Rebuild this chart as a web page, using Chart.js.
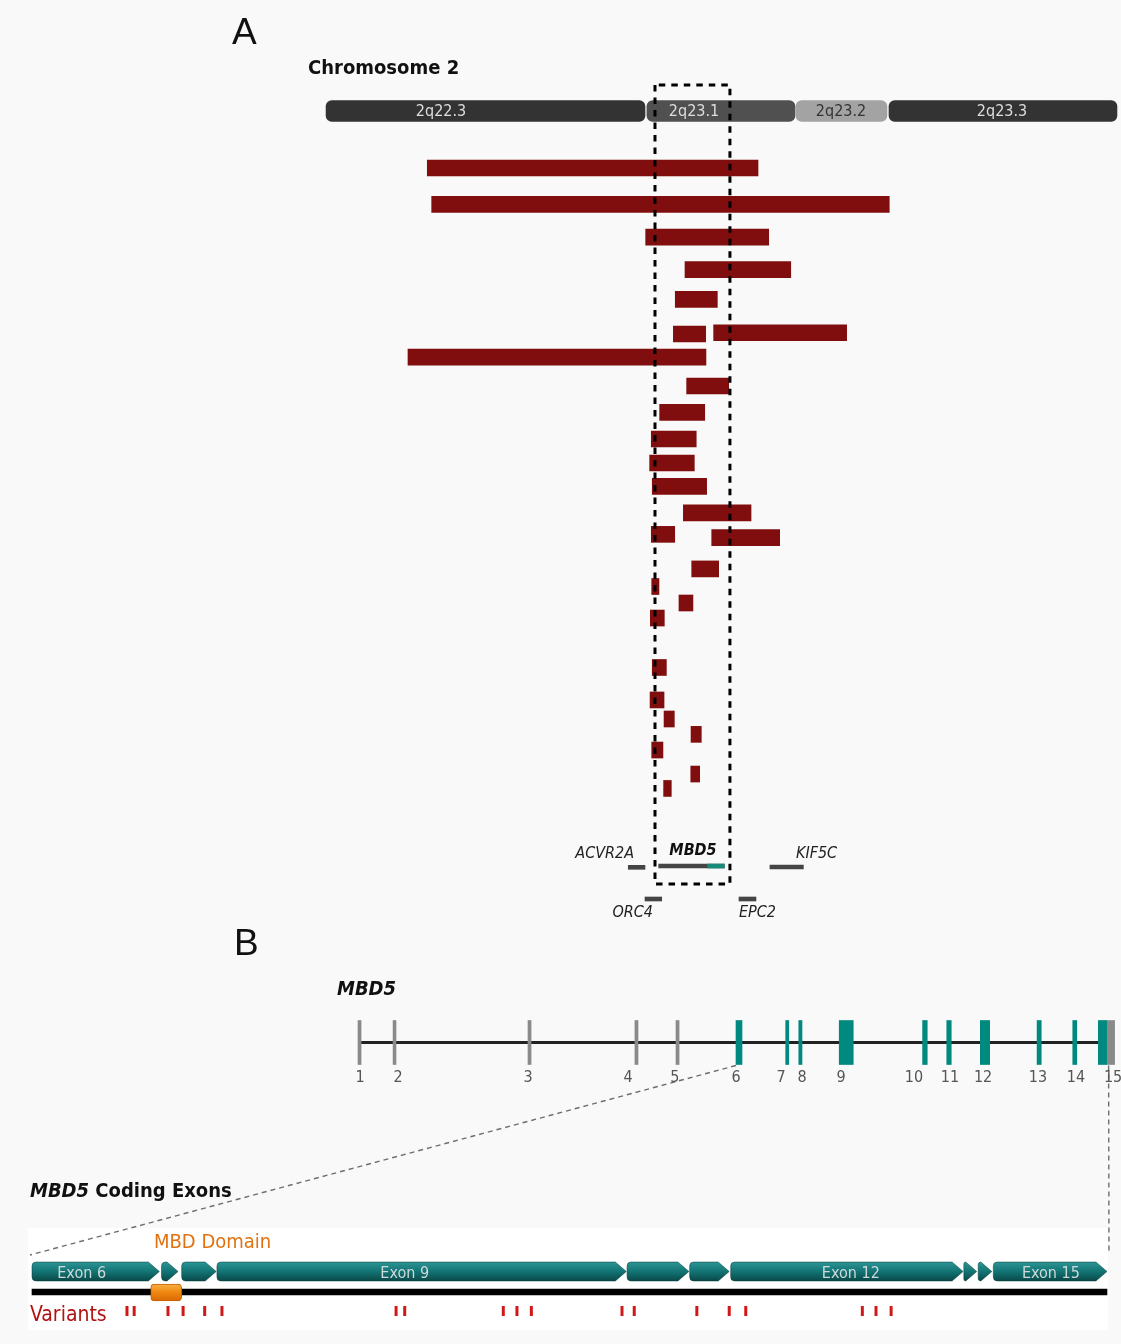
<!DOCTYPE html>
<html>
<head>
<meta charset="utf-8">
<script src="https://cdn.jsdelivr.net/npm/chart.js@4.4.1/dist/chart.umd.min.js"></script>
<style>
  html, body { margin: 0; padding: 0; background: #f9f9f9; }
  #wrap { width: 1121px; height: 1344px; }
</style>
</head>
<body>
<div id="wrap"><canvas id="fig" width="1121" height="1344"></canvas></div>
<script>
// ---------- Panel A : chromosome 2 region (positions in Mb) ----------
const bandNames   = ['2q22.3', '2q23.1', '2q23.2', '2q23.3'];
const bandStart   = [146.380, 148.722, 149.810, 150.489];
const bandEnd     = [148.708, 149.803, 150.474, 152.153];
const bandLabelAt = [147.219, 149.066, 150.139, 151.314];

// deletions: start / end (Mb) and display row
const delStart = [147.119, 147.151, 148.713, 149.000, 148.929, 148.915, 149.209, 146.978, 149.012, 148.815,
                  148.754, 148.742, 148.761, 148.988, 148.754, 149.195, 149.049, 148.757, 148.956, 148.747,
                  148.761, 148.745, 148.847, 149.044, 148.757, 149.042, 148.844];
const delEnd   = [149.533, 150.491, 149.611, 149.772, 149.236, 149.151, 150.180, 149.153, 149.319, 149.144,
                  149.082, 149.068, 149.158, 149.482, 148.925, 149.691, 149.246, 148.810, 149.058, 148.849,
                  148.864, 148.847, 148.922, 149.119, 148.839, 149.107, 148.900];
const delRow   = [3.56, 5.84, 7.88, 9.91, 11.77, 13.94, 13.86, 15.38, 17.19, 18.84,
                  20.5, 22.0, 23.46, 25.12, 26.46, 26.66, 28.62, 29.72, 30.75, 31.69,
                  34.78, 36.81, 38.0, 38.96, 39.94, 41.44, 42.34];

// genes around the region
const geneNames   = ['ACVR2A', 'MBD5', 'KIF5C', 'ORC4', 'EPC2'];
const geneStart   = [148.586, 148.808, 149.620, 148.708, 149.394];
const geneEnd     = [148.708, 149.287, 149.864, 148.830, 149.518];
const geneRow     = [47.27, 47.19, 47.25, 49.25, 49.25];
const geneLabelAt = [148.628, 149.058, 149.810, 148.766, 149.394];
const mbd5CodingFrom = 149.166;

// dashed box around MBD5
const boxX = [148.781, 149.328];
const boxY = [-1.625, 48.31];

// ---------- Panel B : MBD5 gene structure (kb from exon 1) ----------
const exonNumbers = [1, 2, 3, 4, 5, 6, 7, 8, 9, 10, 11, 12, 13, 14, 15];
const exonStart   = [0, 22.8, 110.5, 180.0, 206.7, 245.7, 278.0, 286.5, 312.8, 367.0, 382.7, 404.5, 441.4, 464.6, 481.2];
const exonEnd     = [2.0, 24.7, 112.5, 182.0, 208.7, 249.6, 280.0, 288.6, 321.9, 370.0, 385.6, 410.6, 444.1, 467.2, 486.6];
const exonLabelAt = [1.3, 26.0, 110.5, 175.5, 206.0, 245.7, 275.0, 288.6, 314.0, 361.4, 384.8, 406.3, 442.0, 466.7, 490.8];
const utr3 = [486.6, 491.8];
const geneSpan = [0, 482];
const firstCoding = 6;

// ---------- Coding exons (amino acids) ----------
const cdsExon     = [6, 7, 8, 9, 10, 11, 12, 13, 14, 15];
const cdsStart    = [0, 180, 208, 257, 827, 914, 971, 1295, 1315, 1336];
const cdsEnd      = [177, 203, 256, 826, 913, 969, 1294, 1313, 1334, 1494];
const cdsLabelled = [6, 9, 12, 15];
const cdsLabelAt  = [69, 518, 1138, 1416];
const proteinLength = 1494;
const mbdDomain = [165, 208];
const variants = [132, 142, 189, 210, 240, 264, 506, 518, 655, 674, 694, 820, 837, 924, 969, 992, 1154, 1173, 1194];

// ---------- style ----------
const SANS = "'DejaVu Sans Condensed', 'DejaVu Sans', sans-serif";
const bandFill = ['#333333', '#505050', '#a3a3a3', '#333333'];
const bandInk  = ['#dedede', '#dedede', '#333333', '#dedede'];
const delColor = '#800e0e';
const teal = '#00897f';
const exonGrey = '#8a8a8a';

function tealGrad(ctx, y0, y1) {
  const g = ctx.createLinearGradient(0, y0, 0, y1);
  g.addColorStop(0, '#2d9494');
  g.addColorStop(0.5, '#137474');
  g.addColorStop(1, '#0a4848');
  return g;
}

function arrowPath(ctx, x0, x1, yT, yB, tip, rad) {
  const yM = (yT + yB) / 2;
  const t = Math.min(tip, x1 - x0);
  const xb = x1 - t;
  const r = Math.max(0, Math.min(rad, xb - x0));
  ctx.beginPath();
  ctx.moveTo(x0 + r, yT);
  ctx.lineTo(xb, yT);
  ctx.lineTo(x1, yM);
  ctx.lineTo(xb, yB);
  ctx.lineTo(x0 + r, yB);
  ctx.quadraticCurveTo(x0, yB, x0, yB - r);
  ctx.lineTo(x0, yT + r);
  ctx.quadraticCurveTo(x0, yT, x0 + r, yT);
  ctx.closePath();
}

function txt(ctx, s, x, y, font, color, align) {
  ctx.font = font;
  ctx.fillStyle = color;
  ctx.textAlign = align || 'left';
  ctx.textBaseline = 'alphabetic';
  ctx.fillText(s, x, y);
}

const figurePlugin = {
  id: 'figure',
  beforeDraw(chart) {
    const {ctx, width, height} = chart;
    const {xc, yC} = chart.scales;
    ctx.save();
    ctx.fillStyle = '#f9f9f9';
    ctx.fillRect(0, 0, width, height);
    const l = xc.getPixelForValue(0) - 4, r = xc.getPixelForValue(proteinLength) + 1;
    const t = yC.getPixelForValue(-4.35), b = yC.getPixelForValue(5.85);
    ctx.fillStyle = '#ffffff';
    ctx.fillRect(l, t, r - l, b - t);
    ctx.restore();
  },
  afterDatasetsDraw(chart) {
    const ctx = chart.ctx;
    const {x, yA, xg, yB, xc, yC} = chart.scales;
    ctx.save();

    // coding exon arrows
    const yT = yC.getPixelForValue(-0.95), yBt = yC.getPixelForValue(0.95);
    cdsStart.forEach((s, i) => {
      arrowPath(ctx, xc.getPixelForValue(s), xc.getPixelForValue(cdsEnd[i]), yT, yBt, 11, 4);
      ctx.fillStyle = tealGrad(ctx, yT, yBt);
      ctx.fill();
      ctx.strokeStyle = 'rgba(6,60,60,0.6)';
      ctx.lineWidth = 0.8;
      ctx.stroke();
    });

    // zoom connectors between gene and coding view
    ctx.setLineDash([5, 4]);
    ctx.strokeStyle = '#6e6e6e';
    ctx.lineWidth = 1.4;
    ctx.beginPath();
    ctx.moveTo(xg.getPixelForValue(exonStart[firstCoding - 1]), yB.getPixelForValue(2.3));
    ctx.lineTo(xc.getPixelForValue(0) - 2, yC.getPixelForValue(-1.65));
    ctx.moveTo(xg.getPixelForValue(exonEnd[14]) + 2, yB.getPixelForValue(2.3));
    ctx.lineTo(xc.getPixelForValue(proteinLength) + 2, yC.getPixelForValue(-2.0));
    ctx.stroke();
    ctx.setLineDash([]);

    // band labels
    bandNames.forEach((n, i) => {
      txt(ctx, n, x.getPixelForValue(bandLabelAt[i]), yA.getPixelForValue(0) + 4.5, '16px ' + SANS, bandInk[i], 'center');
    });

    // gene labels
    const geneAlign = ['right', 'center', 'left', 'right', 'left'];
    geneNames.forEach((n, i) => {
      const gy = yA.getPixelForValue(geneRow[i]);
      const below = geneRow[i] > 48;
      const font = n === 'MBD5' ? 'italic bold 16px ' + SANS : 'italic 16px ' + SANS;
      const yy = below ? gy + 18 : gy - (n === 'MBD5' ? 11 : 9);
      txt(ctx, n, x.getPixelForValue(geneLabelAt[i]), yy, font, n === 'MBD5' ? '#111' : '#222', geneAlign[i]);
    });

    // exon numbers
    exonNumbers.forEach((n, i) => {
      txt(ctx, String(n), xg.getPixelForValue(exonLabelAt[i]), yB.getPixelForValue(0) + 39.5, '16px ' + SANS, '#555', 'center');
    });

    // coding exon names
    cdsLabelled.forEach((n, i) => {
      txt(ctx, 'Exon ' + n, xc.getPixelForValue(cdsLabelAt[i]), yC.getPixelForValue(0) + 6.5, '16px ' + SANS, '#cddada', 'center');
    });

    // headings
    txt(ctx, 'A', 232, 44, "37px 'Liberation Sans', Arial, sans-serif", '#111');
    txt(ctx, 'Chromosome 2', 308, 74, 'bold 20px ' + SANS, '#111');
    txt(ctx, 'B', 234, 955, "37px 'Liberation Sans', Arial, sans-serif", '#111');
    txt(ctx, 'MBD5', 337, 995, 'italic bold 20px ' + SANS, '#111');
    ctx.font = 'italic bold 20px ' + SANS;
    const w = ctx.measureText('MBD5').width;
    txt(ctx, 'MBD5', 30, 1197, 'italic bold 20px ' + SANS, '#111');
    txt(ctx, ' Coding Exons', 30 + w, 1197, 'bold 20px ' + SANS, '#111');
    txt(ctx, 'MBD Domain', 154, 1248, '20px ' + SANS, '#e0720f');
    txt(ctx, 'Variants', 30, 1321, '21px ' + SANS, '#b31212');
    ctx.restore();
  }
};

const bar = (extra) => Object.assign({
  type: 'bar', grouped: false, borderWidth: 0, borderSkipped: false
}, extra);

const datasets = [
  // dashed box (drawn last = on top)
  { type: 'line', order: 0, xAxisID: 'x', yAxisID: 'yA',
    data: [{x: boxX[0], y: boxY[0]}, {x: boxX[0], y: boxY[1]}, {x: boxX[1], y: boxY[1]}, {x: boxX[1], y: boxY[0]}, {x: boxX[0], y: boxY[0]}],
    borderColor: '#000', borderWidth: 3, borderDash: [6.5, 6], pointRadius: 0, fill: false },
  bar({ order: 3, xAxisID: 'x', yAxisID: 'yA',
    data: bandStart.map((s, i) => ({x: [s, bandEnd[i]], y: 0})),
    backgroundColor: bandFill, barThickness: 21, borderRadius: 6 }),
  bar({ order: 2, xAxisID: 'x', yAxisID: 'yA',
    data: delStart.map((s, i) => ({x: [s, delEnd[i]], y: delRow[i]})),
    backgroundColor: delColor, barThickness: 16 }),
  bar({ order: 2, xAxisID: 'x', yAxisID: 'yA',
    data: geneStart.map((s, i) => ({x: [s, geneEnd[i]], y: geneRow[i]})),
    backgroundColor: '#454545', barThickness: 4 }),
  bar({ order: 1, xAxisID: 'x', yAxisID: 'yA',
    data: [{x: [mbd5CodingFrom, geneEnd[1]], y: geneRow[1]}],
    backgroundColor: '#1a8a78', barThickness: 4 }),
  // gene structure
  { type: 'line', order: 6, xAxisID: 'xg', yAxisID: 'yB',
    data: [{x: geneSpan[0], y: 0}, {x: geneSpan[1], y: 0}],
    borderColor: '#222', borderWidth: 3, pointRadius: 0, fill: false },
  bar({ order: 5, xAxisID: 'xg', yAxisID: 'yB',
    data: exonStart.map((s, i) => ({x: [s, exonEnd[i]], y: 0})),
    backgroundColor: exonNumbers.map(n => n >= firstCoding ? teal : exonGrey), barThickness: 44 }),
  bar({ order: 5, xAxisID: 'xg', yAxisID: 'yB',
    data: [{x: utr3, y: 0}], backgroundColor: exonGrey, barThickness: 44 }),
  // coding view
  bar({ order: 6, xAxisID: 'xc', yAxisID: 'yC',
    data: [{x: [0, proteinLength], y: 2.05}], backgroundColor: '#000', barThickness: 6 }),
  bar({ order: 5, xAxisID: 'xc', yAxisID: 'yC',
    data: [{x: mbdDomain, y: 2.1}], barThickness: 17, borderRadius: 4, borderWidth: 1, borderColor: '#c65f00',
    backgroundColor: (c) => {
      const ch = c.chart;
      if (!ch.chartArea) return '#f08a10';
      const y = ch.scales.yC.getPixelForValue(2.1);
      const g = ch.ctx.createLinearGradient(0, y - 8.5, 0, y + 8.5);
      g.addColorStop(0, '#f8b24a');
      g.addColorStop(0.45, '#f08a12');
      g.addColorStop(1, '#d96800');
      return g;
    } }),
  { type: 'scatter', order: 4, xAxisID: 'xc', yAxisID: 'yC',
    data: variants.map(v => ({x: v, y: 3.95})),
    pointStyle: 'line', pointRotation: 90, pointRadius: 5, pointBorderWidth: 3,
    pointBorderColor: '#d01818', borderColor: '#d01818', showLine: false }
];

const hidden = { display: false, offset: false, grid: { display: false } };

new Chart(document.getElementById('fig'), {
  type: 'bar',
  data: { datasets },
  options: {
    indexAxis: 'y',
    responsive: false,
    animation: false,
    devicePixelRatio: 1,
    layout: { padding: 0, autoPadding: false },
    plugins: { legend: { display: false }, tooltip: { enabled: false } },
    events: [],
    scales: {
      x:  Object.assign({ type: 'linear', min: 144, max: 152.1825 }, hidden),
      xg: Object.assign({ type: 'linear', axis: 'x', min: -232.7, max: 495.95 }, hidden),
      xc: Object.assign({ type: 'linear', axis: 'x', min: -44.47, max: 1513.5 }, hidden),
      yA: Object.assign({ type: 'linear', axis: 'y', min: -6.9375, max: 77.0625, reverse: true }, hidden),
      yB: Object.assign({ type: 'linear', axis: 'y', min: -104.25, max: 30.15, reverse: true }, hidden),
      yC: Object.assign({ type: 'linear', axis: 'y', min: -127.15, max: 7.25, reverse: true }, hidden)
    }
  },
  plugins: [figurePlugin]
});
</script>
</body>
</html>
